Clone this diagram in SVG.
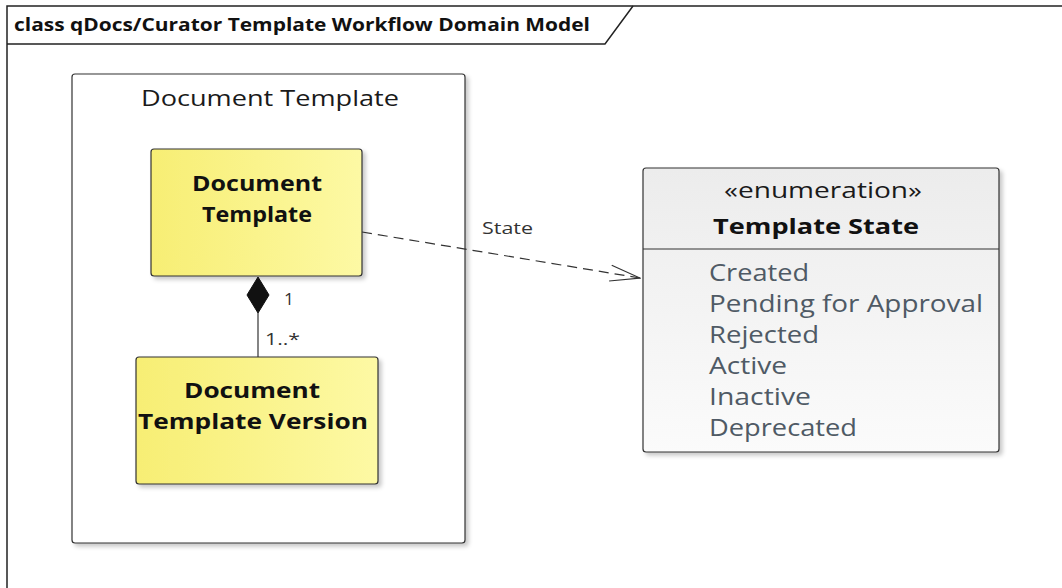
<svg xmlns="http://www.w3.org/2000/svg" width="1062" height="588" viewBox="0 0 1062 588">
  <defs>
    <linearGradient id="classFill" x1="0" y1="0" x2="1" y2="0">
      <stop offset="0" stop-color="#f7ee74"/>
      <stop offset="1" stop-color="#fdf9a4"/>
    </linearGradient>
    <linearGradient id="enumFill" x1="0" y1="0" x2="0" y2="1">
      <stop offset="0" stop-color="#ececec"/>
      <stop offset="1" stop-color="#fbfbfb"/>
    </linearGradient>
    <filter id="shadow" x="-10%" y="-10%" width="125%" height="125%">
      <feDropShadow dx="3" dy="3" stdDeviation="2" flood-color="#000" flood-opacity="0.22"/>
    </filter>
    <marker id="openArrow" viewBox="0 0 32 20" refX="31" refY="10" markerWidth="32" markerHeight="20" markerUnits="userSpaceOnUse" orient="auto">
      <path d="M1,2 L31,10 L1,18" fill="none" stroke="#333" stroke-width="1.2"/>
    </marker>
  </defs>
  <style>
    .frame { fill: none; stroke: #222; stroke-width: 1.5; }
    .pkg { fill: #fff; stroke: #333; stroke-width: 1.2; }
    .cls { fill: url(#classFill); stroke: #333; stroke-width: 1.2; }
    .enum { fill: url(#enumFill); stroke: #333; stroke-width: 1.2; }
    .title { font-family: "Open Sans", "Noto Sans", sans-serif; font-weight: bold; font-size: 17px; fill: #111; }
    .pkgName { font-family: "Open Sans", "Noto Sans", sans-serif; font-size: 21px; fill: #1a1a1a; text-anchor: middle; }
    .clsName { font-family: "Open Sans", "Noto Sans", sans-serif; font-weight: bold; font-size: 21px; fill: #111; text-anchor: middle; }
    .stereo { font-family: "Open Sans", "Noto Sans", sans-serif; font-size: 21px; fill: #1a1a1a; text-anchor: middle; }
    .literal { font-family: "Open Sans", "Noto Sans", sans-serif; font-size: 23px; fill: #4f5a65; }
    .lbl { font-family: "Open Sans", "Noto Sans", sans-serif; font-size: 17px; fill: #333; }
    .conn { stroke: #333; stroke-width: 1.2; fill: none; }
  </style>

  <rect x="0" y="0" width="1062" height="588" fill="#fff"/>

  <!-- diagram frame with name tab -->
  <g id="frame">
    <path class="frame" d="M7,588 L7,6 L1062,6"/>
    <path class="frame" d="M7,44 L605,44 L633,6"/>
    <text class="title" x="14" y="31" textLength="576" lengthAdjust="spacingAndGlyphs">class qDocs/Curator Template Workflow Domain Model</text>
  </g>

  <!-- package boundary -->
  <g id="pkg-document-template">
    <rect class="pkg" x="72" y="74" width="393" height="469" rx="3" filter="url(#shadow)"/>
    <text class="pkgName" x="270" y="106" textLength="258" lengthAdjust="spacingAndGlyphs">Document Template</text>
  </g>

  <!-- classes -->
  <g id="cls-document-template">
    <rect class="cls" x="151" y="149" width="211" height="127" rx="3" filter="url(#shadow)"/>
    <text class="clsName" x="257" y="191" textLength="130" lengthAdjust="spacingAndGlyphs">Document</text>
    <text class="clsName" x="257" y="222" textLength="110" lengthAdjust="spacingAndGlyphs">Template</text>
  </g>

  <g id="cls-document-template-version">
    <rect class="cls" x="136" y="357" width="242" height="127" rx="3" filter="url(#shadow)"/>
    <text class="clsName" x="252" y="398" textLength="136" lengthAdjust="spacingAndGlyphs">Document</text>
    <text class="clsName" x="253" y="429" textLength="230" lengthAdjust="spacingAndGlyphs">Template Version</text>
  </g>

  <g id="enum-template-state">
    <rect class="enum" x="643" y="168" width="356" height="284" rx="3" filter="url(#shadow)"/>
    <line x1="643" y1="249" x2="999" y2="249" stroke="#333" stroke-width="1.2"/>
    <text class="stereo" x="823" y="198" textLength="198" lengthAdjust="spacingAndGlyphs">«enumeration»</text>
    <text class="clsName" x="816" y="234" textLength="206" lengthAdjust="spacingAndGlyphs">Template State</text>
    <text class="literal" x="709" y="281" textLength="100" lengthAdjust="spacingAndGlyphs">Created</text>
    <text class="literal" x="709" y="312" textLength="274" lengthAdjust="spacingAndGlyphs">Pending for Approval</text>
    <text class="literal" x="709" y="343" textLength="110" lengthAdjust="spacingAndGlyphs">Rejected</text>
    <text class="literal" x="709" y="374" textLength="78" lengthAdjust="spacingAndGlyphs">Active</text>
    <text class="literal" x="709" y="405" textLength="102" lengthAdjust="spacingAndGlyphs">Inactive</text>
    <text class="literal" x="709" y="436" textLength="148" lengthAdjust="spacingAndGlyphs">Deprecated</text>
  </g>

  <!-- connectors -->
  <g id="connectors">
    <!-- composition: Document Template owns its versions -->
    <line class="conn" x1="258" y1="313" x2="258" y2="357"/>
    <path d="M258,277 L269,295 L258,313 L247,295 Z" fill="#111" stroke="#111" stroke-width="1"/>
    <text class="lbl" x="284" y="305" textLength="10" lengthAdjust="spacingAndGlyphs">1</text>
    <text class="lbl" x="265" y="345" textLength="35" lengthAdjust="spacingAndGlyphs">1..*</text>

    <!-- dependency: state typed by the enumeration -->
    <line class="conn" x1="362" y1="232" x2="640" y2="278" stroke-dasharray="10,6" marker-end="url(#openArrow)"/>
    <text class="lbl" x="482" y="234" textLength="51" lengthAdjust="spacingAndGlyphs">State</text>
  </g>
</svg>
